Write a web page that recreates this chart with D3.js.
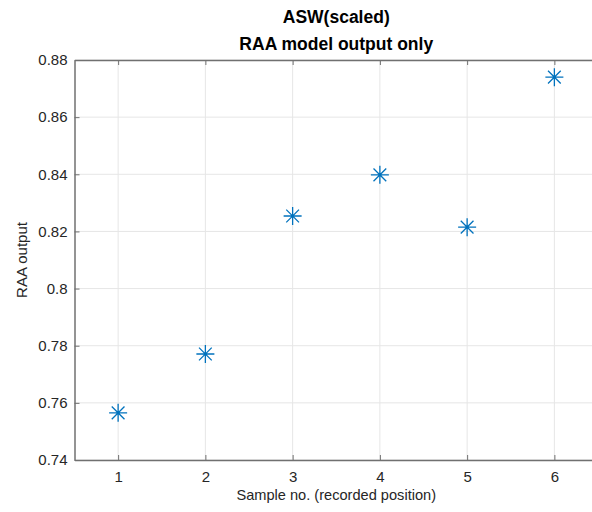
<!DOCTYPE html>
<html>
<head>
<meta charset="utf-8">
<script src="https://cdn.jsdelivr.net/npm/d3@7"></script>
<style>
  html, body { margin: 0; padding: 0; background: #fff; }
  svg { display: block; font-family: "Liberation Sans", Arial, Helvetica, sans-serif; }
</style>
</head>
<body>
<svg id="chart" width="592" height="512"></svg>
<script>
// Sample positions and RAA model output values
const samples = [1, 2, 3, 4, 5, 6];
const raaOutput = [0.7565, 0.7771, 0.8254, 0.8398, 0.8215, 0.8740];
const xTicks = [1, 2, 3, 4, 5, 6];
const yTicks = [0.74, 0.76, 0.78, 0.8, 0.82, 0.84, 0.86, 0.88];
const titleLines = ["ASW(scaled)", "RAA model output only"];
const xLabel = "Sample no. (recorded position)";
const yLabel = "RAA output";

const svg = d3.select("#chart");
const box = { left: 74.5, top: 60, right: 598, bottom: 460 };

const x = d3.scaleLinear().domain([0.5, 6.5]).range([box.left, box.right]);
const y = d3.scaleLinear().domain([0.74, 0.88]).range([box.bottom, box.top]);

const axisColor = "#707070";
const textColor = "#262626";
const gridColor = "#e6e6e6";
const markColor = "#0072BD";

// Grid lines
const grid = svg.append("g");
grid.selectAll("line.vx").data(xTicks).join("line")
  .attr("x1", d => x(d)).attr("x2", d => x(d))
  .attr("y1", box.top).attr("y2", box.bottom)
  .attr("stroke", gridColor).attr("stroke-width", 1);
grid.selectAll("line.hy").data(yTicks).join("line")
  .attr("x1", box.left).attr("x2", box.right)
  .attr("y1", d => y(d)).attr("y2", d => y(d))
  .attr("stroke", gridColor).attr("stroke-width", 1);

// Axes (ticks point inward, box on)
const fmt = d => d3.format("")(+d.toFixed(2));
const xAxis = svg.append("g").attr("transform", `translate(0,${box.bottom})`)
  .call(d3.axisBottom(x).tickValues(xTicks).tickSizeInner(-5).tickSizeOuter(0).tickPadding(11).tickFormat(d3.format("d")));
const xTop = svg.append("g").attr("transform", `translate(0,${box.top})`)
  .call(d3.axisTop(x).tickValues(xTicks).tickSizeInner(-5).tickSizeOuter(0).tickFormat(""));
const yAxis = svg.append("g").attr("transform", `translate(${box.left},0)`)
  .call(d3.axisLeft(y).tickValues(yTicks).tickSizeInner(-5).tickSizeOuter(0).tickPadding(7).tickFormat(fmt));

[xAxis, xTop, yAxis].forEach(g => {
  g.select(".domain").attr("stroke", axisColor).attr("stroke-width", 1.5);
  g.selectAll(".tick line").attr("stroke", axisColor).attr("stroke-width", 1);
  g.selectAll(".tick text").attr("fill", textColor).style("font-size", "15px")
    .style("font-family", "'Liberation Sans', Arial, sans-serif");
});

// Star markers
const r = 9, rd = r * 0.7071;
const starPath = `M${-r},0L${r},0M0,${-r}L0,${r}M${-rd},${-rd}L${rd},${rd}M${-rd},${rd}L${rd},${-rd}`;
svg.append("g").selectAll("path").data(samples).join("path")
  .attr("transform", (d, i) => `translate(${x(d)},${y(raaOutput[i])})`)
  .attr("d", starPath)
  .attr("fill", "none").attr("stroke", markColor).attr("stroke-width", 1.3);

// Title
const cx = (box.left + box.right) / 2;
svg.append("g").selectAll("text").data(titleLines).join("text")
  .attr("x", cx).attr("y", (d, i) => 23 + i * 27)
  .attr("text-anchor", "middle")
  .attr("fill", "#000").style("font-weight", "bold").style("font-size", "17.5px")
  .text(d => d);

// Axis labels
svg.append("text").attr("x", cx).attr("y", 500)
  .attr("text-anchor", "middle").attr("fill", textColor).style("font-size", "14.6px")
  .text(xLabel);
svg.append("text")
  .attr("transform", `translate(27,${(box.top + box.bottom) / 2}) rotate(-90)`)
  .attr("text-anchor", "middle").attr("fill", textColor).style("font-size", "15px")
  .text(yLabel);
</script>
</body>
</html>
